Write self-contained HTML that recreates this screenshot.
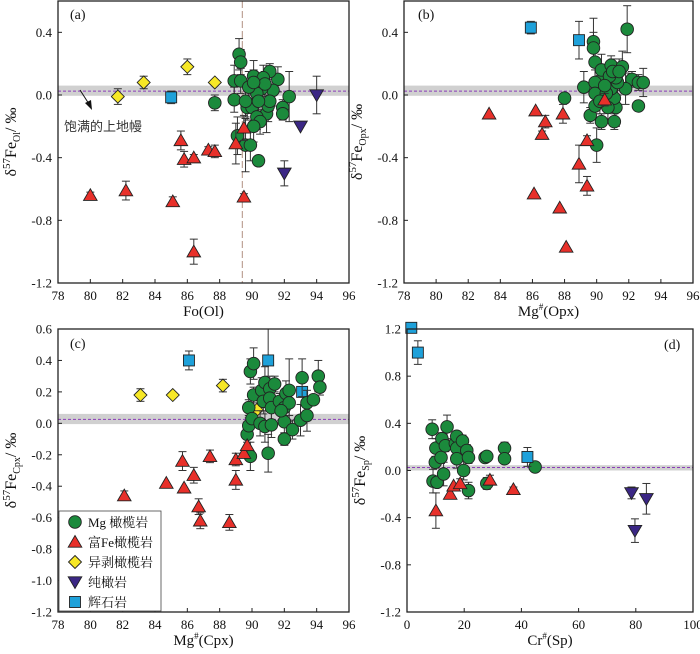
<!DOCTYPE html>
<html><head><meta charset="utf-8"><style>
html,body{margin:0;padding:0;background:#fff;}
svg{display:block;font-family:"Liberation Serif","Noto Serif CJK SC",serif;}
</style></head><body>
<svg id="chart" width="700" height="654" viewBox="0 0 700 654" xmlns="http://www.w3.org/2000/svg"></svg>
<script>
// ---- data: [x, delta57Fe, err] ----
const aGreen=[[87.7,-0.05,0.05],[89.2,0.26,0.1],[89.3,0.21,0.08],[88.9,0.09,0.1],[89.3,0.09,0.08],[88.9,-0.03,0.08],[89.1,-0.26,0.12],[89.6,-0.32,0.17],[89.9,-0.32,0.1],[90.4,-0.42,0.03],[92.3,-0.01,0.16],[91.9,-0.08,0.05],[91.9,-0.12,0.04],[91.6,0.1,0.08],[91.1,0.15,0.05],[91.3,0.03,0.1],[90.9,-0.12,0.12],[91,-0.07,0.1],[90.1,0.12,0.1],[90.7,0.11,0.08],[90.6,0.04,0.08],[90.3,0.01,0.1],[89.8,0.05,0.1],[89.7,-0.08,0.08],[90,-0.08,0.1],[90.3,-0.14,0.08],[90.5,-0.17,0.08],[90.1,-0.2,0.1],[90.8,0.07,0.08],[91.1,-0.04,0.06],[89.6,-0.04,0.1],[90.4,-0.04,0.08],[90.1,0.08,0.08]];
const aRed=[[80,-0.64,0.02],[82.2,-0.61,0.06],[85.1,-0.68,0.03],[85.6,-0.29,0.06],[85.8,-0.41,0.05],[86.4,-0.4,0.02],[86.4,-1.0,0.08],[87.3,-0.35,0.02],[87.7,-0.36,0.04],[89,-0.31,0.13],[89.5,-0.21,0.08],[89.5,-0.65,0.02]];
const aYellow=[[81.7,-0.01,0.05],[83.3,0.08,0.04],[86,0.18,0.05],[87.7,0.08,0.0]];
const aBlue=[[85,-0.015,0.04]];
const aPurple=[[94,0.0,0.12],[93,-0.2,0.0],[92,-0.5,0.08]];

const bGreen=[[88,-0.02,0],[89.2,0.05,0.1],[89.8,0.34,0.15],[89.8,0.3,0.1],[89.9,0.21,0.1],[91.9,0.42,0.15],[89.6,-0.13,0.05],[89.9,-0.07,0.08],[90,-0.32,0.11],[90.2,0.09,0.1],[90.3,0.16,0.1],[90.9,0.19,0.06],[91.6,0.18,0.1],[92.2,0.1,0.05],[92.6,0.08,0.05],[92.9,0.08,0.09],[91.8,0.04,0.1],[92.6,-0.07,0.02],[90.3,-0.17,0.05],[91.1,-0.17,0.05],[91.2,-0.08,0.12],[91.1,-0.02,0.08],[90.9,0.04,0.08],[91.3,0.08,0.08],[89.9,0.08,0.08],[89.9,0.01,0.1],[90.6,0.01,0.08],[90.7,-0.08,0.08],[91.2,0.11,0.08],[90.8,0.12,0.08],[90.5,0.06,0.08],[91,0.15,0.08],[91.4,0.15,0.08],[90.2,-0.04,0.08]];
const bRed=[[83.3,-0.12,0],[86.2,-0.1,0],[86.8,-0.17,0.04],[86.6,-0.25,0.02],[87.9,-0.12,0.06],[86.1,-0.63,0],[87.7,-0.72,0],[88.1,-0.97,0],[88.9,-0.44,0.12],[89.4,-0.29,0.03],[89.4,-0.58,0.06],[90.5,-0.03,0.04]];
const bBlue=[[85.9,0.43,0.04],[88.9,0.35,0.12]];

const cGreen=[[89.9,-0.21,0.09],[89.7,-0.07,0.05],[89.8,-0.015,0.05],[89.8,0.1,0.05],[89.9,0.33,0.08],[90.1,0.38,0.1],[90.1,0.18,0.05],[90,0.03,0.05],[90.6,0.21,0.08],[90.8,0.26,0.1],[90.7,0.14,0.08],[90.5,0,0.08],[90.8,-0.02,0.1],[91,-0.19,0.12],[91.1,0.22,0.08],[91.1,0.16,0.08],[91.2,0.1,0.08],[91.2,-0.01,0.08],[91.4,0.25,0.05],[91.7,0.14,0.05],[92.1,0.19,0.08],[92,0.1,0.08],[92,0.01,0.08],[92,-0.1,0.04],[92.3,0.13,0.08],[92.3,0.21,0.2],[92.5,-0.04,0.06],[93.1,0.29,0.12],[93,0.02,0.1],[93.4,0.13,0.08],[93.4,0.05,0.1],[93.8,0.15,0.03],[94.1,0.3,0.1],[94.2,0.23,0.05],[91.8,0.08,0.06]];
const cRed=[[82.1,-0.46,0.03],[84.7,-0.38,0],[85.7,-0.24,0.06],[85.8,-0.41,0],[86.4,-0.33,0.05],[86.7,-0.53,0.05],[86.8,-0.62,0.05],[87.4,-0.21,0.04],[88.6,-0.63,0.05],[89,-0.23,0.04],[89,-0.36,0.06],[89.5,-0.19,0],[89.7,-0.14,0]];
const cYellow=[[83.1,0.18,0.04],[85.1,0.18,0],[88.2,0.24,0.04],[90.3,0.085,0]];
const cBlue=[[86.1,0.4,0.06],[91,0.4,0.2],[93.1,0.2,0]];

const dGreen=[[8.8,0.35,0.08],[9.1,-0.09,0.1],[9.9,0.07,0.05],[10.1,0.19,0.08],[10.5,-0.1,0.02],[12.2,0.27,0.05],[11.9,0.11,0.05],[12.8,-0.03,0.1],[13.4,0.21,0.05],[14,0.37,0.1],[16.9,0.23,0.05],[17.4,0.29,0.04],[17.4,0.19,0.05],[17.4,0.1,0.08],[19.4,0.25,0.05],[19.8,0,0.08],[20.9,0.17,0.05],[21.5,0.11,0.05],[21.5,-0.17,0.07],[27.3,0.11,0.03],[27.9,0.12,0.04],[27.9,-0.11,0.05],[34.1,0.19,0.05],[34.1,0.1,0.03],[44.8,0.03,0.04]];
const dRed=[[10.1,-0.34,0.15],[15.1,-0.2,0],[16.3,-0.13,0],[18.6,-0.11,0.04],[29,-0.08,0.04],[37.2,-0.16,0.02]];
const dBlue=[[1.5,1.21,0],[3.8,1.0,0.1],[42.1,0.115,0.08]];
const dPurple=[[78.5,-0.19,0.05],[83.7,-0.24,0.13],[79.7,-0.51,0.1]];

const xTicksA=[78,80,82,84,86,88,90,92,94,96];
const yTicksAB=[0.4,0.0,-0.4,-0.8,-1.2];
const yTicksC=[0.6,0.4,0.2,0.0,-0.2,-0.4,-0.6,-0.8,-1.0,-1.2];
const yTicksD=[1.2,0.8,0.4,0.0,-0.4,-0.8,-1.2];
const xTicksD=[0,20,40,60,80,100];

const NS="http://www.w3.org/2000/svg";
const svg=document.getElementById('chart');
function el(tag,attrs,parent,txt){const e=document.createElementNS(NS,tag);for(const k in attrs)e.setAttribute(k,attrs[k]);if(txt!==undefined)e.textContent=txt;(parent||svg).appendChild(e);return e;}
const COL={green:'#1b8a3c',red:'#e8302a',yellow:'#f7e826',blue:'#1ea1da',purple:'#3b2785'};

function marker(g,type,cx,cy){
  let m;
  if(type==='green') m=el('circle',{cx:cx,cy:cy,r:6.3,fill:COL.green,stroke:'#222','stroke-width':0.9},g);
  else if(type==='red') m=el('polygon',{points:`${cx},${cy-6.5} ${cx+6.8},${cy+5.2} ${cx-6.8},${cy+5.2}`,fill:COL.red,stroke:'#222','stroke-width':0.9},g);
  else if(type==='yellow') m=el('polygon',{points:`${cx},${cy-6.5} ${cx+6.5},${cy} ${cx},${cy+6.5} ${cx-6.5},${cy}`,fill:COL.yellow,stroke:'#222','stroke-width':0.9},g);
  else if(type==='blue') m=el('rect',{x:cx-5.5,y:cy-5.5,width:11,height:11,fill:COL.blue,stroke:'#222','stroke-width':0.9},g);
  else m=el('polygon',{points:`${cx-6.8},${cy-5.2} ${cx+6.8},${cy-5.2} ${cx},${cy+6.5}`,fill:COL.purple,stroke:'#222','stroke-width':0.9},g);
  return m;
}

function panel(o){
  const g=el('g',{});
  
  
  const sx=v=>o.x0+(v-o.xmin)/(o.xmax-o.xmin)*(o.x1-o.x0);
  const sy=v=>o.y1-(v-o.ymin)/(o.ymax-o.ymin)*(o.y1-o.y0);
  const band=el('rect',{x:o.x0,y:sy(o.bandTop),width:o.x1-o.x0,height:sy(o.bandBot)-sy(o.bandTop),fill:'#d0d0d0'},g);
  
  
  const ref=el('line',{x1:o.x0,x2:o.x1,y1:sy(0.025),y2:sy(0.025),stroke:'#8a3cb8','stroke-width':1,'stroke-dasharray':'3,2'},g);
  
  
  if(o.vline!==undefined){
    const vl=el('line',{x1:sx(o.vline),x2:sx(o.vline),y1:o.y0,y2:o.y1,stroke:'#b09080','stroke-width':1,'stroke-dasharray':'7,3'},g);
    
    
  }
  o.xticks.forEach(t=>{
    el('line',{x1:sx(t),x2:sx(t),y1:o.y1,y2:o.y1-4,stroke:'#222'},g);
    const tl=el('text',{x:sx(t),y:o.y1+17,'font-size':13,'text-anchor':'middle',fill:'#111'},g,String(t));
    
    
  });
  o.yticks.forEach(t=>{
    el('line',{x1:o.x0,x2:o.x0+4,y1:sy(t),y2:sy(t),stroke:'#222'},g);
    const tl=el('text',{x:o.x0-6,y:sy(t)+4.5,'font-size':13,'text-anchor':'end',fill:'#111'},g,t.toFixed(1));
    
    
  });
  o.series.forEach(s=>{
    const sg=el('g',{},g);
    
    
    s.data.forEach(d=>{
      const cx=sx(d[0]),cy=sy(d[1]);
      if(d[2]>0){
        const a=sy(d[1]+d[2]),b=sy(d[1]-d[2]);
        el('line',{x1:cx,x2:cx,y1:a,y2:b,stroke:'#333','stroke-width':1},sg);
        el('line',{x1:cx-4,x2:cx+4,y1:a,y2:a,stroke:'#333','stroke-width':1},sg);
        el('line',{x1:cx-4,x2:cx+4,y1:b,y2:b,stroke:'#333','stroke-width':1},sg);
      }
    });
    s.data.forEach(d=>{
      const m=marker(sg,s.type,sx(d[0]),sy(d[1]));
      
      
    });
  });
  const frame=el('rect',{x:o.x0,y:o.y0,width:o.x1-o.x0,height:o.y1-o.y0,fill:'none',stroke:'#222','stroke-width':1.3},g);
  
  
  const pl=el('text',{x:o.lx,y:o.ly,'font-size':14,fill:'#111'},g,o.label);
  
  
  const xt=el('text',{x:(o.x0+o.x1)/2,y:o.y1+33,'font-size':15,'text-anchor':'middle',fill:'#111'},g);
  
  
  xt.innerHTML=o.xtitle;
  const cy=(o.y0+o.y1)/2;
  const yt=el('text',{x:0,y:0,'font-size':16,'text-anchor':'middle',fill:'#111',transform:`translate(${o.x0-42},${cy}) rotate(-90)`},g);
  
  
  yt.innerHTML=`δ<tspan dy="-6" font-size="11">57</tspan><tspan dy="6">Fe</tspan><tspan dy="4" font-size="10">${o.sub}</tspan><tspan dy="-4">/ ‰</tspan>`;
  return {g,sx,sy};
}

const pa=panel({name:'panel-a',x0:58,x1:349,y0:1,y1:283,xmin:78,xmax:96,ymin:-1.2,ymax:0.6,bandTop:0.06,bandBot:-0.005,xticks:xTicksA,yticks:yTicksAB,vline:89.4,label:'(a)',lx:70,ly:19,xtitle:'Fo(Ol)',sub:'Ol',
  series:[{name:'series-yellow',type:'yellow',data:aYellow},{name:'series-blue',type:'blue',data:aBlue},{name:'series-purple',type:'purple',data:aPurple},{name:'series-green',type:'green',data:aGreen},{name:'series-red',type:'red',data:aRed}]});
const ann=el('text',{x:64,y:131,'font-size':13,fill:'#333','font-family':'"Liberation Sans","Noto Sans CJK SC",sans-serif'},pa.g,'饱满的上地幔');


const arr=el('line',{x1:80,y1:90,x2:89,y2:104,stroke:'#111','stroke-width':1},pa.g);


el('polygon',{points:'92,110 85,103 91,100',fill:'#111'},pa.g);

panel({name:'panel-b',x0:404,x1:693,y0:1,y1:283,xmin:78,xmax:96,ymin:-1.2,ymax:0.6,bandTop:0.06,bandBot:-0.005,xticks:xTicksA,yticks:yTicksAB,label:'(b)',lx:418,ly:19,xtitle:'Mg<tspan dy="-6" font-size="9">#</tspan><tspan dy="6">(Opx)</tspan>',sub:'Opx',
  series:[{name:'series-blue',type:'blue',data:bBlue},{name:'series-green',type:'green',data:bGreen},{name:'series-red',type:'red',data:bRed}]});

panel({name:'panel-c',x0:58,x1:349,y0:329,y1:612,xmin:78,xmax:96,ymin:-1.2,ymax:0.6,bandTop:0.06,bandBot:-0.005,xticks:xTicksA,yticks:yTicksC,label:'(c)',lx:70,ly:348,xtitle:'Mg<tspan dy="-6" font-size="9">#</tspan><tspan dy="6">(Cpx)</tspan>',sub:'Cpx',
  series:[{name:'series-blue',type:'blue',data:cBlue},{name:'series-yellow',type:'yellow',data:cYellow},{name:'series-green',type:'green',data:cGreen},{name:'series-red',type:'red',data:cRed}]});

panel({name:'panel-d',x0:407,x1:693,y0:329,y1:612,xmin:0,xmax:100,ymin:-1.2,ymax:1.2,bandTop:0.045,bandBot:0.0,xticks:xTicksD,yticks:yTicksD,label:'(d)',lx:664,ly:349,xtitle:'Cr<tspan dy="-6" font-size="9">#</tspan><tspan dy="6">(Sp)</tspan>',sub:'Sp',
  series:[{name:'series-green',type:'green',data:dGreen},{name:'series-red',type:'red',data:dRed},{name:'series-purple',type:'purple',data:dPurple},{name:'series-blue',type:'blue',data:dBlue}]});

const legendTypes=['green','red','yellow','purple','blue'];
const legendLabels=['Mg 橄榄岩','富Fe橄榄岩','异剥橄榄岩','纯橄岩','辉石岩'];
const lg=el('g',{});


el('rect',{x:59,y:511,width:102,height:100,fill:'#fff',stroke:'#444','stroke-width':0.8},lg);
legendTypes.forEach((t,i)=>{
  const y=522+i*20;
  const eg=el('g',{},lg);
  
  
  marker(eg,t,75,y);
  el('text',{x:88,y:y+5,'font-size':13,fill:'#111'},eg,legendLabels[i]);
});
</script>
</body></html>
